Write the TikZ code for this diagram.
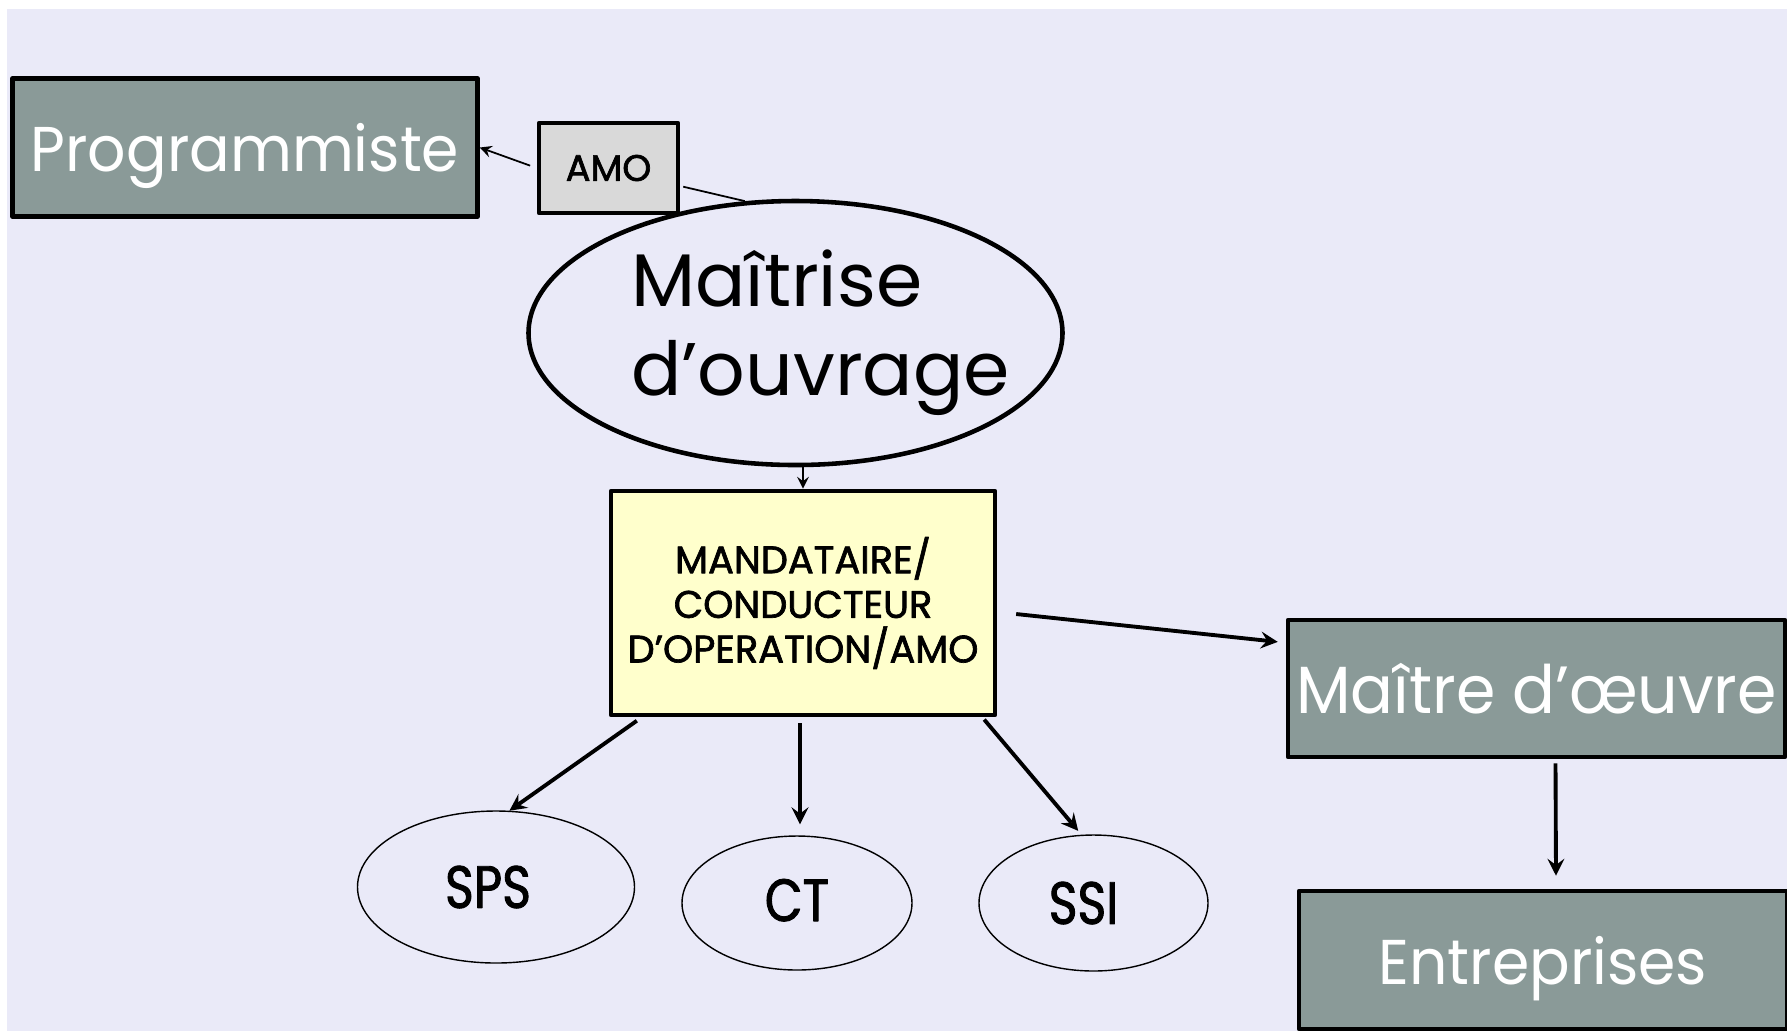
\documentclass[tikz,border=0pt]{standalone}
\usepackage{fontspec}
\setmainfont{Poppins}
\newfontfamily\medfont{Poppins}[FakeBold=1.8]
\newfontfamily\etroit{Poppins}[FakeStretch=0.95]
\newfontfamily\bullefont{Poppins}[FakeStretch=0.82,FakeBold=1.5]
\usetikzlibrary{shapes.geometric}
\definecolor{fond}{HTML}{EAEAF8}
\definecolor{ardoise}{HTML}{8A9A98}
\definecolor{paille}{HTML}{FFFFCC}
\definecolor{gris}{HTML}{D9D9D9}
\begin{document}
\begin{tikzpicture}[x=0.1mm,y=-0.1mm,>=stealth,line join=round,
  acteur/.style={draw,line width=1.3pt,fill=ardoise,text=white,inner sep=0pt,text depth=0pt,font=\etroit\fontsize{18}{22}\selectfont},
  bulle/.style={draw,ellipse,line width=0.4pt,inner sep=0pt,font=\bullefont\fontsize{17}{20}\selectfont},
  fleche/.style={->,line width=1.1pt},
  trait/.style={line width=0.5pt}]
\fill[white] (0,0) rectangle (1787,1031);
\fill[fond] (7,9) rectangle (1787,1031);
\useasboundingbox (0,0) rectangle (1787,1031);
\node[acteur,minimum width=46.5mm,minimum height=13.8mm] (prog) at (245,147.5) {Programmiste};
\node[draw,fill=gris,line width=1.3pt,minimum width=13.9mm,minimum height=9mm,inner sep=0pt,font=\medfont\fontsize{10.5}{12}\selectfont] (amo) at (608.5,168) {AMO};
\node[draw,ellipse,line width=1.3pt,minimum width=53.4mm,minimum height=26.4mm,inner sep=0pt,font=\fontsize{21.2}{25.3}\selectfont] (mo) at (795.5,333) {\makebox[0pt]{\hspace*{5mm}\begin{tabular}{@{}l@{}}Maîtrise\\d’ouvrage\end{tabular}}};
\node[draw,fill=paille,line width=1.3pt,minimum width=38.4mm,minimum height=22.4mm,inner sep=0pt,align=center,font=\medfont\fontsize{10.9}{12.7}\selectfont] (mand) at (803,603) {MANDATAIRE/\\CONDUCTEUR\\D’OPERATION/AMO};
\node[acteur,minimum width=49.7mm,minimum height=13.7mm,font=\etroit\fontsize{19}{22}\selectfont] (moe) at (1536.5,688.5) {Maître d’œuvre};
\node[acteur,minimum width=48.8mm,minimum height=13.8mm] (ent) at (1543,960) {Entreprises};
\node[bulle,minimum width=27.7mm,minimum height=15.2mm] (sps) at (496,887) {\hspace*{-1.6mm}SPS};
\node[bulle,minimum width=23mm,minimum height=13.4mm] (ct) at (797,903) {\raisebox{0.6mm}{CT}};
\node[bulle,minimum width=22.9mm,minimum height=13.6mm] (ssi) at (1093.5,903) {\hspace*{-2mm}SSI};
\draw[trait,->,shorten <=0.7mm] (amo.west) -- (prog.east);
\draw[trait,shorten <=0.3mm] ([yshift=-1.8mm]amo.east) -- (mo.111);
\draw[trait,->] (mo.south -| mand.north) -- (mand.north);
\draw[fleche,shorten <=1.9mm,shorten >=0.8mm] ([yshift=-0.9mm]mand.east) -- ([yshift=-2.5mm]moe.north west);
\draw[fleche,shorten <=0.4mm] ([xshift=1.9mm]moe.south) -- ([xshift=1.3mm,yshift=1.3mm]ent.north);
\draw[fleche,shorten <=0.6mm] ([xshift=3.3mm]mand.south west) -- (sps.80);
\draw[fleche,shorten <=0.6mm,shorten >=1.1mm] ([xshift=-0.3mm]mand.south) -- ([xshift=-0.3mm]mand.south |- ct.north);
\draw[fleche,shorten <=0.3mm,shorten >=0.5mm] ([xshift=-1.5mm]mand.south east) -- (ssi.100);
\end{tikzpicture}
\end{document}
